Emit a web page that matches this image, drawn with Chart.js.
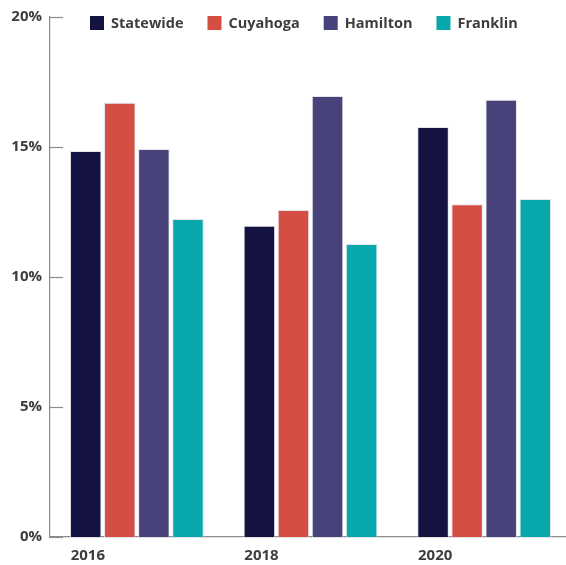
<!DOCTYPE html>
<html>
<head>
<meta charset="utf-8">
<script src="https://cdn.jsdelivr.net/npm/chart.js@4/dist/chart.umd.min.js"></script>
<style>
  html, body { margin: 0; padding: 0; background: #fff; }
  #wrap { width: 566px; height: 565px; position: relative; }
</style>
</head>
<body>
<div id="wrap"><canvas id="c"></canvas></div>
<script>
const years = ['2016', '2018', '2020'];
const statewide = [14.85, 11.97, 15.77];
const cuyahoga = [16.70, 12.58, 12.80];
const hamilton = [14.92, 16.96, 16.82];
const franklin = [12.23, 11.27, 13.00];
const yTicks = [0, 5, 10, 15, 20];

const textColor = '#3d3d3d';
const axisColor = '#8c8c8c';
const fontFamily = '"Open Sans", "DejaVu Sans", sans-serif';

const innerTicks = {
  id: 'innerTicks',
  afterDraw(chart) {
    const y = chart.scales.y;
    const ctx = chart.ctx;
    const left = chart.chartArea.left;
    ctx.save();
    ctx.strokeStyle = axisColor;
    ctx.lineWidth = 1.2;
    y.ticks.forEach(t => {
      const py = Math.round(y.getPixelForValue(t.value)) + 0.5;
      ctx.beginPath();
      ctx.moveTo(left, py);
      ctx.lineTo(left + 13, py);
      ctx.stroke();
    });
    ctx.restore();
  }
};

// extend the category axis a little past the canvas edge (as in the reference)
const widenX = {
  id: 'widenX',
  afterLayout(chart) {
    const x = chart.scales.x;
    x.right = x.right + 5;
    x.width = x.right - x.left;
    x.configure();
  }
};

// legend drawn over the plot top, from dataset labels/colours
const topLegend = {
  id: 'topLegend',
  afterDraw(chart) {
    const ctx = chart.ctx;
    ctx.save();
    ctx.font = '700 14.5px ' + fontFamily;
    ctx.textBaseline = 'middle';
    ctx.textAlign = 'left';
    let x = 90;
    const yTop = 16, box = 14, gap = 7, spacing = 24;
    chart.data.datasets.forEach(ds => {
      ctx.fillStyle = ds.backgroundColor;
      ctx.fillRect(x, yTop, box, box);
      ctx.fillStyle = textColor;
      ctx.fillText(ds.label, x + box + gap, yTop + box / 2 + 0.5);
      x += box + gap + ctx.measureText(ds.label).width + spacing;
    });
    ctx.restore();
  }
};

const mk = (label, data, color) => ({
  label, data,
  backgroundColor: color,
  borderColor: 'rgba(225,225,235,0.9)',
  borderWidth: 1,
  borderSkipped: 'start',
  categoryPercentage: 0.785,
  barPercentage: 0.925
});

new Chart(document.getElementById('c'), {
  type: 'bar',
  data: {
    labels: years,
    datasets: [
      mk('Statewide', statewide, '#141240'),
      mk('Cuyahoga', cuyahoga, '#d44f43'),
      mk('Hamilton', hamilton, '#48427a'),
      mk('Franklin', franklin, '#09a8ac')
    ]
  },
  options: {
    responsive: true,
    maintainAspectRatio: false,
    animation: false,
    layout: { padding: { top: 17, right: 0, left: 0, bottom: 0 } },
    plugins: {
      tooltip: { enabled: false },
      legend: { display: false }
    },
    scales: {
      x: {
        grid: { display: false, drawTicks: false },
        border: { display: true, color: axisColor, width: 1.2 },
        ticks: {
          color: textColor,
          padding: 10,
          labelOffset: -49,
          maxRotation: 0,
          font: { family: fontFamily, size: 15, weight: '700' }
        },
        afterFit(s) { s.height = 28; }
      },
      y: {
        min: 0,
        max: 20,
        afterBuildTicks(s) { s.ticks = yTicks.map(v => ({ value: v })); },
        grid: { display: false, drawTicks: false },
        border: { display: true, color: axisColor, width: 1.2 },
        ticks: {
          color: textColor,
          padding: 8,
          font: { family: fontFamily, size: 15, weight: '700' },
          callback: v => v + '%'
        },
        afterFit(s) { s.width = 50; }
      }
    }
  },
  plugins: [innerTicks, widenX, topLegend]
});
</script>
</body>
</html>
